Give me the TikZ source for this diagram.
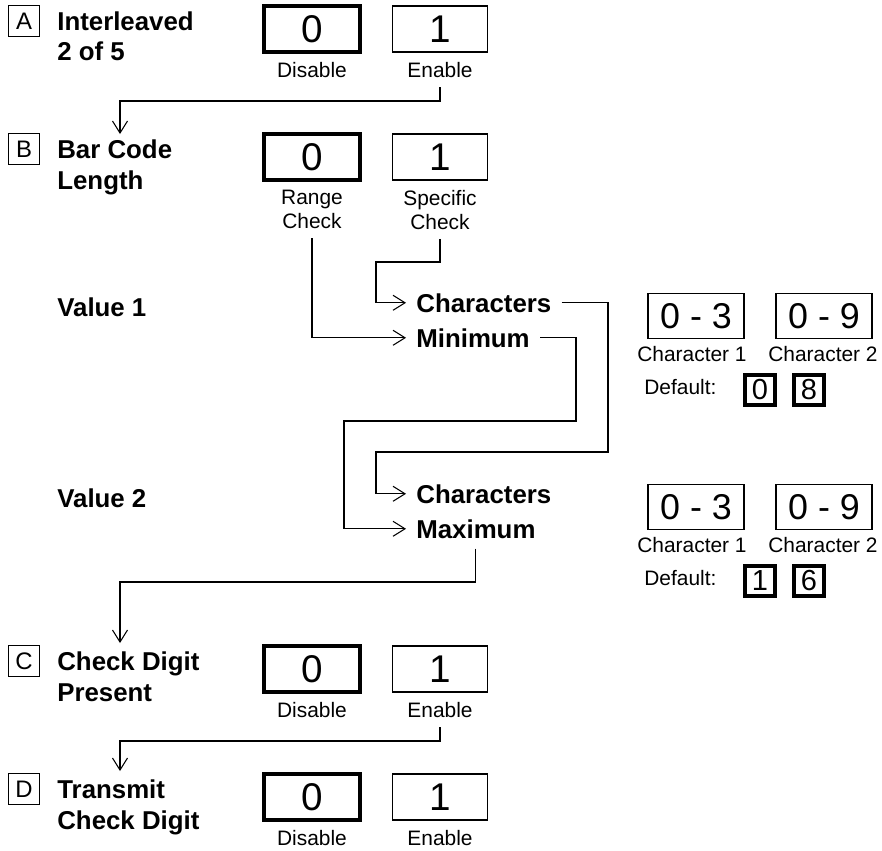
\documentclass[tikz,border=0pt]{standalone}
\usepackage{fontspec}
\setmainfont{Liberation Sans}
\usetikzlibrary{arrows.meta}

\tikzset{
  tagbox/.style={draw, line width=0.6pt, minimum width=0.62cm, minimum height=0.62cm, inner sep=0pt, font=\fontsize{13.6}{14}\selectfont},
  headtxt/.style={anchor=north west, align=left, inner sep=0pt, font=\fontsize{14.7}{17.6}\selectfont\bfseries},
  flowtxt/.style={anchor=base west, inner xsep=0.2cm, inner ysep=0.2cm, font=\fontsize{14.7}{17.6}\selectfont\bfseries},
  optbox/.style={draw, line width=0.6pt, minimum width=1.9cm, minimum height=0.92cm, inner sep=0pt, font=\fontsize{22}{22}\selectfont},
  defopt/.style={optbox, line width=2.2pt, minimum width=1.92cm},
  rangebox/.style={draw, line width=0.6pt, minimum width=1.92cm, minimum height=0.9cm, inner sep=0pt, font=\fontsize{20.4}{20.4}\selectfont},
  digbox/.style={draw, line width=2.2pt, minimum width=0.6cm, minimum height=0.6cm, inner sep=0pt, font=\fontsize{16.5}{16.5}\selectfont},
  subtxt/.style={anchor=north, align=center, inner xsep=0pt, inner ysep=0.18cm, font=\fontsize{11.9}{13.6}\selectfont},
  flow/.style={line width=0.6pt, -{Straight Barb[length=2.4mm, width=3mm]}},
}

\begin{document}
\begin{tikzpicture}[x=0.02cm, y=-0.02cm]
\useasboundingbox (0,0) rectangle (882,850);

% the four option rows
\foreach \k/\rw/\ttl/\lo/\hi in {
  A/29/{Interleaved\\2 of 5}/Disable/Enable,
  B/157/{Bar Code\\Length}/{Range\\Check}/{Specific\\Check},
  C/669/{Check Digit\\Present}/Disable/Enable,
  D/797/{Transmit\\Check Digit}/Disable/Enable}
{
  \node[tagbox] (tag\k) at (24,\rw-8) {\k};
  \node[headtxt] (ttl\k) at (57,\rw-18) {\ttl};
  \node[defopt] (off\k) at (312,\rw) {0};
  \node[optbox] (on\k) at (440,\rw) {1};
  \node[subtxt] (lo\k) at (312,\rw+24) {\lo};
  \node[subtxt] (hi\k) at (440,\rw+24) {\hi};
}

% length values
\node[headtxt, anchor=base west] (val1) at (57,316) {Value 1};
\node[headtxt, anchor=base west] (val2) at (57,507) {Value 2};
\node[flowtxt] (chr1) at (406,312) {Characters};
\node[flowtxt] (min1) at (406,347) {Minimum};
\node[flowtxt] (chr2) at (406,503) {Characters};
\node[flowtxt] (max2) at (406,538) {Maximum};

\foreach \v/\cy/\da/\db in {1/316/0/8, 2/507/1/6}
{
  \node[rangebox] (fst\v) at (696,\cy) {0 - 3};
  \node[rangebox] (snd\v) at (824,\cy) {0 - 9};
  \node[subtxt, anchor=base] (fstl\v) at (692,\cy+45) {Character 1};
  \node[subtxt, anchor=base] (sndl\v) at (823,\cy+45) {Character 2};
  \node[subtxt, anchor=base west] (dflt\v) at (644,\cy+78) {Default:};
  \node[digbox] (dfa\v) at (760,\cy+74) {\da};
  \node[digbox] (dfb\v) at (809,\cy+74) {\db};
}

% connectors
\coordinate (kAB) at (120,101);
\coordinate (tipB) at (120,134);
\draw[flow] (hiA.south) |- (kAB) -- (tipB);

\coordinate (kSpc) at (376,262);
\draw[flow] (hiB.south) |- (kSpc) |- (chr1.west);
\draw[flow] (loB.south) |- (min1.west);

\coordinate (kChrR) at (608,452);
\coordinate (kChrL) at (376,452);
\draw[flow] (chr1.east) -| (kChrR) -- (kChrL) |- (chr2.west);

\coordinate (kMinR) at (576,421);
\coordinate (kMinL) at (344,421);
\draw[flow] (min1.east) -| (kMinR) -- (kMinL) |- (max2.west);

\coordinate (kMaxC) at (120,582);
\coordinate (tipC) at (120,643);
\draw[flow] (max2.south) |- (kMaxC) -- (tipC);

\coordinate (kCD) at (120,741);
\coordinate (tipD) at (120,771);
\draw[flow] (hiC.south) |- (kCD) -- (tipD);

\end{tikzpicture}
\end{document}
